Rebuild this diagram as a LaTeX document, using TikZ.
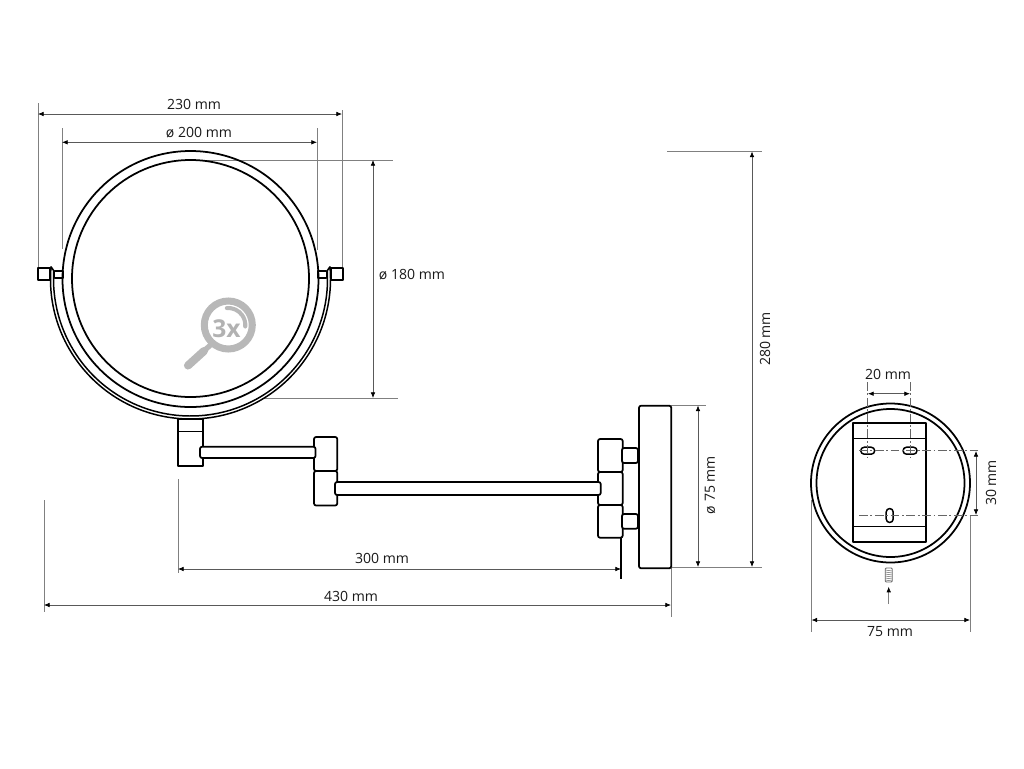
\documentclass[tikz,border=0pt]{standalone}
\usepackage{fontspec}
\setmainfont{Open Sans}
\usetikzlibrary{arrows.meta}

\begin{document}
\begin{tikzpicture}[x=0.02cm,y=-0.02cm]
  \tikzset{part/.style = {draw=black,line width=1pt,fill=white,line join=round}}
  \tikzset{knuckle/.style = {part,rounded corners=1.2pt}}
  \tikzset{thinpart/.style = {draw=black,line width=0.5pt}}
  \tikzset{extline/.style = {draw=black!50,line width=0.4pt}}
  \tikzset{dimline/.style = {draw=black!65,line width=0.4pt,{Latex[length=3.2pt,width=2.6pt,black]}-{Latex[length=3.2pt,width=2.6pt,black]}}}
  \tikzset{axisline/.style = {draw=black!60,line width=0.35pt,dash pattern=on 5pt off 1.5pt on 1pt off 1.5pt}}
  \tikzset{dimlabel/.style = {inner sep=0pt,font=\fontsize{8}{9.5}\selectfont,text=black!90}}
  \tikzset{iconpart/.style = {draw=black!28,line cap=round}}

\useasboundingbox (0,0) rectangle (1024,768);

% extension lines
\draw[extline] (38,103) -- (38,267);
\draw[extline] (342,110) -- (342,268);
\draw[extline] (62,128) -- (62,249);
\draw[extline] (317,128) -- (317,250);
\draw[extline] (190,160) -- (393,160);
\draw[extline] (262,398) -- (398,398);
\draw[extline] (667,151) -- (762,151);
\draw[extline] (672,567) -- (762,567);
\draw[extline] (671,405.5) -- (706,405.5);
\draw[extline] (178,479) -- (178,573);
\draw[extline] (44,500) -- (44,612);
\draw[extline] (671,568) -- (671,617);
\draw[extline] (811.5,500) -- (811.5,632);
\draw[extline] (970,516) -- (970,632);

% mirror, front view
\draw[part] (178,419) rectangle (202.7,466);
\draw[thinpart] (178,431.7) -- (202.7,431.7);
\draw[part] (38,268) rectangle (50,280);
\draw[part] (331,268) rectangle (343,280);
\draw[part,line width=0.7pt] (54.5,271) rectangle (63,278);
\draw[part,line width=0.7pt] (318,271) rectangle (326.5,278);
\draw[part,line width=0.85pt,fill=none,shift={(190.5,279)}] (185:140) arc[start angle=185,end angle=-5,radius=140]
   -- (-3.5:137) arc[start angle=-3.5,end angle=183.5,radius=137] -- cycle;
\draw[part,fill=none] (190.5,279) circle (128);
\draw[part,fill=none] (190.5,278.5) circle (118.5);

% arms and wall plate
\draw[knuckle] (314,437) rectangle (337.3,471);
\draw[knuckle] (314,471) rectangle (337.3,505.5);
\draw[knuckle] (200,446.7) rectangle (315.5,458);
\draw[knuckle] (598,439) rectangle (622.7,472);
\draw[knuckle] (598,472) rectangle (622.7,505);
\draw[knuckle] (598,505) rectangle (622.7,537.7);
\draw[knuckle] (335,482) rectangle (600.7,495);
\draw[knuckle] (622,448) rectangle (638,463);
\draw[knuckle] (622,514) rectangle (638,528.7);
\draw[knuckle] (639,405.7) rectangle (671.3,568.3);
\draw[part] (621.3,537.7) -- (621.3,579);

% 3x icon
\draw[iconpart,line width=4pt] (228.3,325) circle (24);
\draw[iconpart,line width=2.3pt,shift={(228.3,325)}] (-95:17) arc[start angle=-95,end angle=5,radius=17];
\draw[iconpart,line width=4.6pt] (204,351) -- (188,365.5);
\draw[iconpart,line width=3pt,line cap=butt] (211,344.5) -- (205,350);
\node[inner sep=0pt,text=black!30,font=\fontsize{14}{16}\selectfont\bfseries] (iconlabel) at (226.5,329) {3x};

% back plate
\draw[part,fill=none] (890.5,483) circle (79.5);
\draw[part,fill=none] (890.5,483) circle (74);
\draw[part,fill=none] (853.3,423.3) rectangle (926,541.7);
\draw[thinpart] (853.3,438.3) -- (926,438.3);
\draw[thinpart] (853.3,526) -- (926,526);
\draw[part,fill=none,line width=0.85pt,rounded corners=2pt] (860.7,447.2) rectangle (874.7,454.2);
\draw[part,fill=none,line width=0.85pt,rounded corners=2pt] (903,447.2) rectangle (917,454.2);
\draw[part,fill=none,line width=0.85pt,rounded corners=2pt] (886.2,508.5) rectangle (893.2,522.5);
\draw[axisline] (859,450.7) -- (980,450.7);
\draw[axisline] (859,515.3) -- (980,515.3);
\draw[axisline] (867.7,382) -- (867.7,458);
\draw[axisline] (910,382) -- (910,458);

% screw
\draw[thinpart,draw=black!60,rounded corners=0.6pt] (885.2,568) rectangle (892.2,582);
\foreach \ypos in {570,572,...,580}
  \draw[thinpart,draw=black!60,line width=0.3pt] (885.2,\ypos) -- (892.2,\ypos+1);
\draw[extline,-{Latex[length=3.2pt,width=2.6pt,black]}] (888.7,604) -- (888.7,586.7);

% dimensions
\draw[dimline] (38,114) -- (342,114);
\draw[dimline] (62,142.3) -- (317,142.3);
\draw[dimline] (373,160) -- (373,398);
\draw[dimline] (752,151.5) -- (752,567);
\draw[dimline] (698,405.5) -- (698,567);
\draw[dimline] (178,569) -- (621,569);
\draw[dimline] (44,605) -- (671,605);
\draw[dimline] (868,393.7) -- (910,393.7);
\draw[dimline] (976,451) -- (976,515);
\draw[dimline] (811.5,620) -- (970,620);

\node[dimlabel] (width)  at (194,104.5) {230 mm};
\node[dimlabel] (mirror)  at (199,133) {ø 200 mm};
\node[dimlabel] (glass)  at (412,274.5) {ø 180 mm};
\node[dimlabel,rotate=90] (height)  at (765,339) {280 mm};
\node[dimlabel,rotate=90] (plate)  at (710,485) {ø 75 mm};
\node[dimlabel] (reach)  at (382,558.5) {300 mm};
\node[dimlabel] (depth)  at (351,596.5) {430 mm};
\node[dimlabel] (holes)  at (888,374.5) {20 mm};
\node[dimlabel,rotate=90] (holesv)  at (991,483) {30 mm};
\node[dimlabel] (back)  at (890,631.5) {75 mm};

\end{tikzpicture}
\end{document}
